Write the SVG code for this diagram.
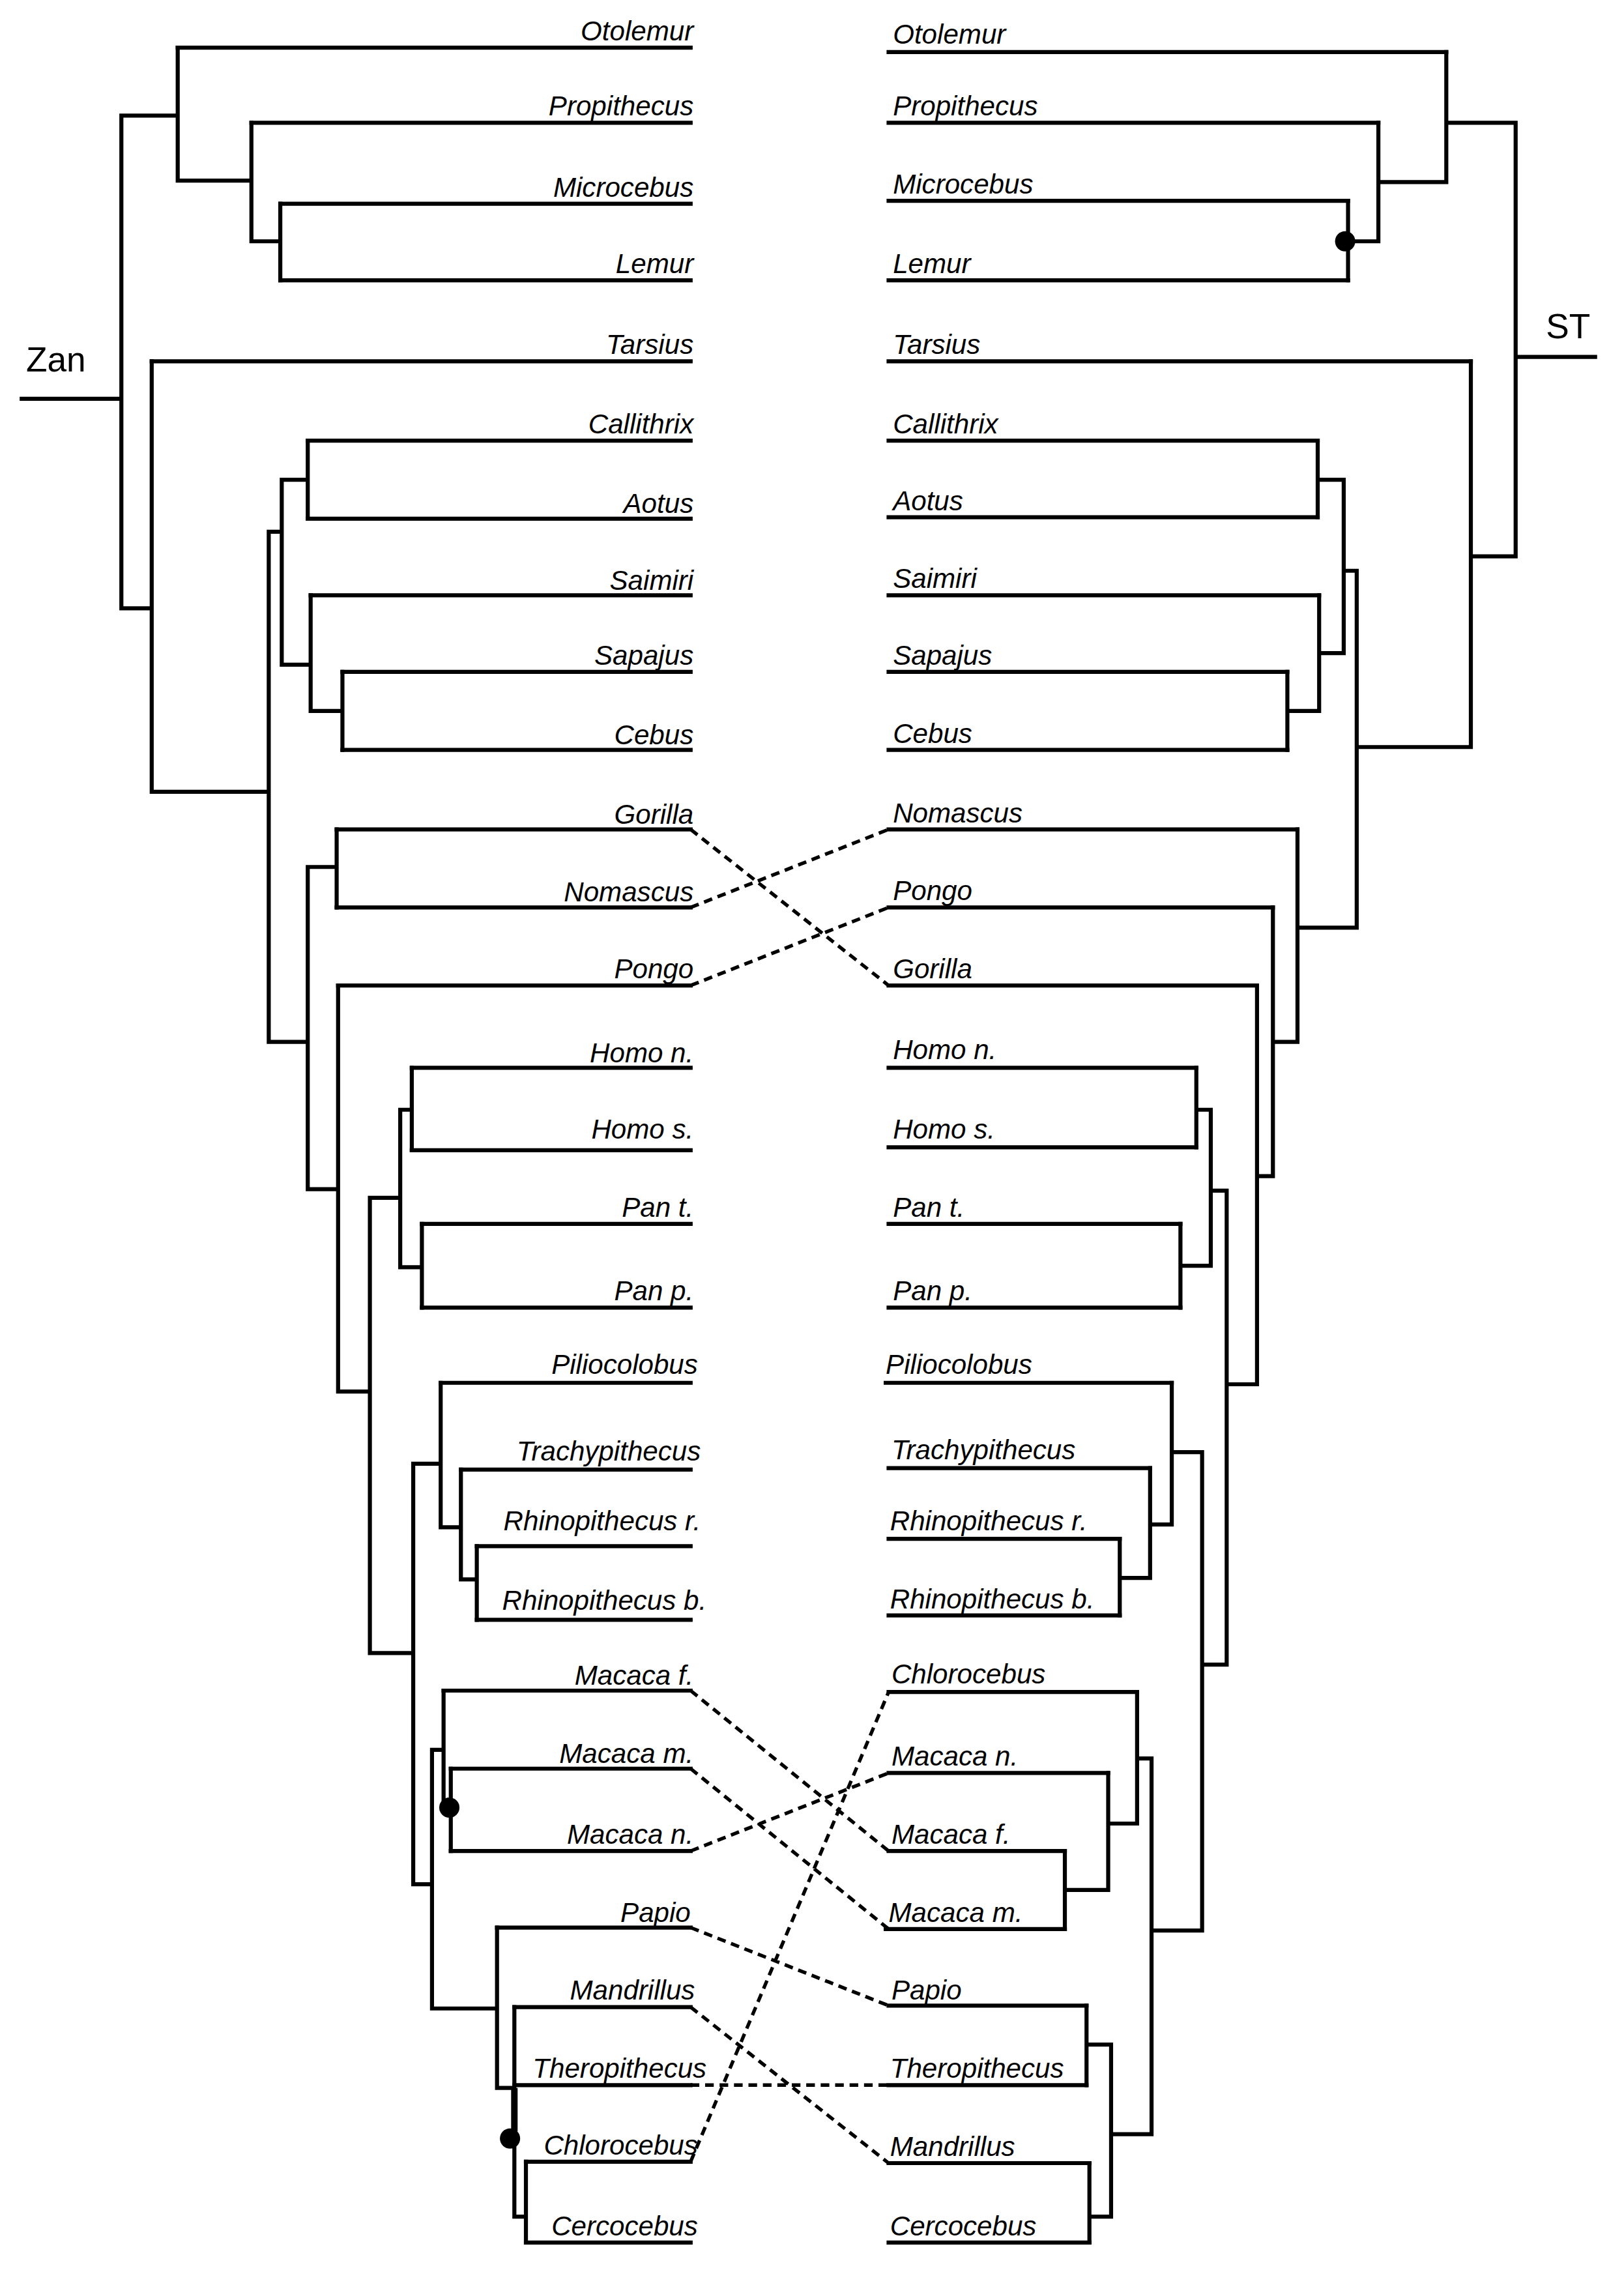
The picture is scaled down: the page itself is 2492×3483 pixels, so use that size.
<svg xmlns="http://www.w3.org/2000/svg" width="2492" height="3483" viewBox="0 0 2492 3483">
<style>
.t{fill:none;stroke:#000;stroke-width:2.8;stroke-linecap:square}
.d{fill:none;stroke:#000;stroke-width:2.4;stroke-dasharray:6 4}
.l{font-family:"Liberation Sans",Arial,sans-serif;font-style:italic;font-size:19px;fill:#000}
.L{text-anchor:end}
.r{font-family:"Liberation Sans",Arial,sans-serif;font-size:24px;fill:#000}
</style>
<rect width="2492" height="3483" fill="#fff"/>
<g transform="scale(2.2171)">
<g id="left-tree">
<path class="t" d="M15,276H84 M84,80V421 M84,80H123 M84,421H105 M123,33V125 M123,125H174 M174,85V167 M174,167H194 M194,141V194 M105,250V548 M105,548H186 M186,368V721 M186,368H195 M195,332V460 M195,332H213 M213,305V359 M195,460H215 M215,412V492 M215,492H237 M237,465V519 M186,721H213 M213,600V823 M213,600H233 M233,574V628 M213,823H234 M234,682V963 M234,963H256 M256,829V1144 M256,829H277 M277,768V877 M277,768H285 M285,739V796 M277,877H292 M292,847V905 M256,1144H286 M286,1013V1304 M286,1013H305 M305,957V1057 M305,1057H319 M319,1017V1093 M319,1093H330 M330,1070V1121 M286,1304H299 M299,1211V1390 M299,1211H307 M307,1170V1251 M307,1251H312 M312,1224V1281 M299,1390H344 M344,1334V1445 M344,1445H356 M356,1389V1534 M356,1534H364 M364,1496V1552"/>
<path d="M356,1445V1475" stroke="#000" stroke-width="4.5"/>
<circle cx="311" cy="1251" r="7"/>
<circle cx="353" cy="1480" r="7"/>
</g>
<g id="left-leaves">
<path class="t" d="M123,33H478 M174,85H478 M194,141H478 M194,194H478 M105,250H478 M213,305H478 M213,359H478 M215,412H478 M237,465H478 M237,519H478 M233,574H478 M233,628H478 M234,682H478 M285,739H478 M285,796H478 M292,847H478 M292,905H478 M305,957H478 M319,1017H478 M330,1070H478 M330,1121H478 M307,1170H478 M312,1224H478 M312,1281H478 M344,1334H478 M356,1389H478 M356,1443H478 M364,1496H478 M364,1552H478"/>
<g class="l L">
<text x="480" y="28">Otolemur</text>
<text x="480" y="80">Propithecus</text>
<text x="480" y="136">Microcebus</text>
<text x="480" y="189">Lemur</text>
<text x="480" y="245">Tarsius</text>
<text x="480" y="300">Callithrix</text>
<text x="480" y="355">Aotus</text>
<text x="480" y="408">Saimiri</text>
<text x="480" y="460">Sapajus</text>
<text x="480" y="515">Cebus</text>
<text x="480" y="570">Gorilla</text>
<text x="480" y="624">Nomascus</text>
<text x="480" y="677">Pongo</text>
<text x="480" y="735">Homo n.</text>
<text x="480" y="788">Homo s.</text>
<text x="480" y="842">Pan t.</text>
<text x="480" y="900">Pan p.</text>
<text x="483" y="951">Piliocolobus</text>
<text x="485" y="1011">Trachypithecus</text>
<text x="485" y="1059">Rhinopithecus r.</text>
<text x="489" y="1114">Rhinopithecus b.</text>
<text x="480" y="1166">Macaca f.</text>
<text x="480" y="1220">Macaca m.</text>
<text x="480" y="1276">Macaca n.</text>
<text x="478" y="1330">Papio</text>
<text x="481" y="1384">Mandrillus</text>
<text x="489" y="1438">Theropithecus</text>
<text x="483" y="1491">Chlorocebus</text>
<text x="483" y="1547">Cercocebus</text>
</g>
<text class="r" x="18" y="257">Zan</text>
</g>
<g id="right-tree">
<path class="t" d="M933,139V194 M933,167H954 M954,85V167 M954,126H1001 M1001,36V126 M1001,85H1049 M1049,85V385 M1049,247H1104 M1018,385H1049 M1018,250V517 M939,517H1018 M912,305V358 M912,332H930 M891,465V519 M891,492H913 M913,412V492 M913,452H930 M930,332V452 M930,395H939 M939,395V642 M898,642H939 M898,574V721 M881,721H898 M881,628V814 M870,814H881 M870,682V958 M849,958H870 M828,739V794 M828,768H838 M817,847V905 M817,876H838 M838,768V876 M838,824H849 M849,824V1152 M832,1152H849 M775,1065V1118 M775,1092H796 M796,1016V1092 M796,1055H811 M811,957V1055 M811,1005H832 M832,1005V1336 M797,1336H832 M737,1281V1335 M737,1308H767 M767,1227V1308 M767,1262H787 M787,1171V1262 M787,1217H797 M752,1388V1443 M752,1415H769 M754,1497V1552 M754,1534H769 M769,1415V1534 M769,1477H797 M797,1217V1477"/>
<circle cx="931" cy="167" r="7"/>
</g>
<g id="right-leaves">
<path class="t" d="M615,36H1001 M615,85H954 M615,139H933 M615,194H933 M615,250H1018 M615,305H912 M615,358H912 M615,412H913 M615,465H891 M615,519H891 M615,574H898 M615,628H881 M615,682H870 M615,739H828 M615,794H828 M615,847H817 M615,905H817 M613,957H811 M615,1016H796 M615,1065H775 M615,1118H775 M615,1171H787 M615,1227H767 M615,1281H737 M613,1335H737 M615,1388H752 M615,1443H752 M615,1497H754 M615,1552H754"/>
<g class="l">
<text x="618" y="30">Otolemur</text>
<text x="618" y="80">Propithecus</text>
<text x="618" y="134">Microcebus</text>
<text x="618" y="189">Lemur</text>
<text x="618" y="245">Tarsius</text>
<text x="618" y="300">Callithrix</text>
<text x="618" y="353">Aotus</text>
<text x="618" y="407">Saimiri</text>
<text x="618" y="460">Sapajus</text>
<text x="618" y="514">Cebus</text>
<text x="618" y="569">Nomascus</text>
<text x="618" y="623">Pongo</text>
<text x="618" y="677">Gorilla</text>
<text x="618" y="733">Homo n.</text>
<text x="618" y="788">Homo s.</text>
<text x="618" y="842">Pan t.</text>
<text x="618" y="900">Pan p.</text>
<text x="613" y="951">Piliocolobus</text>
<text x="617" y="1010">Trachypithecus</text>
<text x="616" y="1059">Rhinopithecus r.</text>
<text x="616" y="1113">Rhinopithecus b.</text>
<text x="617" y="1165">Chlorocebus</text>
<text x="617" y="1222">Macaca n.</text>
<text x="617" y="1276">Macaca f.</text>
<text x="615" y="1330">Macaca m.</text>
<text x="617" y="1384">Papio</text>
<text x="616" y="1438">Theropithecus</text>
<text x="616" y="1492">Mandrillus</text>
<text x="616" y="1547">Cercocebus</text>
</g>
<text class="r" x="1070" y="234">ST</text>
</g>
<g id="connectors">
<path class="d" d="M478,574L615,682 M478,628L615,574 M478,682L615,628 M478,1170L615,1281 M478,1224L615,1335 M478,1281L615,1227 M478,1334L615,1388 M478,1389L615,1497 M478,1443H615 M478,1496L615,1171"/>
</g>
</g>
</svg>
